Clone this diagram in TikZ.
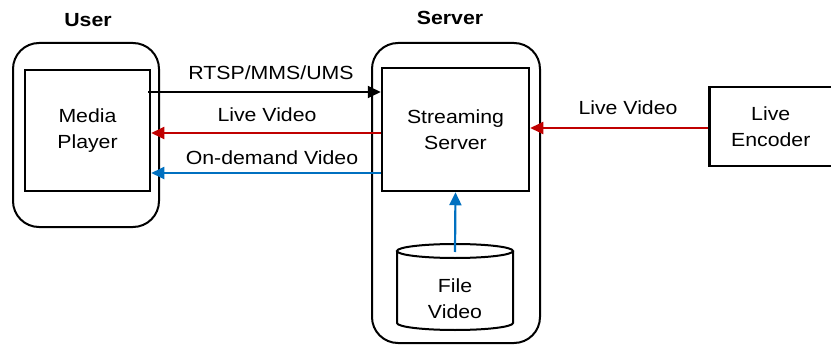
\documentclass[tikz,border=0pt]{standalone}
\usepackage{fontspec}
\setmainfont[FakeStretch=1.12]{Liberation Sans}
\usetikzlibrary{arrows.meta}
\definecolor{lred}{RGB}{192,0,0}
\definecolor{lblue}{RGB}{0,112,192}
\begin{document}
\begin{tikzpicture}[x=1pt,y=-1pt,
  txt/.style={font=\fontsize{19}{26}\selectfont, align=center, inner sep=0pt},
  head/.style={font=\fontsize{19}{22}\selectfont\bfseries, inner sep=0pt},
  group/.style={draw, line width=2pt, rounded corners=26pt},
  box/.style={draw, line width=2.5pt, inner sep=0pt},
  conn/.style={line width=1.8pt, -{Triangle[length=13pt,width=12pt]}}]
\useasboundingbox (0,0) rectangle (831,345);
% groups
\draw[group] (13,43) rectangle (159,227);
\draw[group] (372,43) rectangle (540,343);
\node[head] (userlbl) at (88,20) {User};
\node[head] (serverlbl) at (450,18) {Server};
% boxes
\node[box, minimum width=125pt, minimum height=121pt] (mp) at (87.5,130.5) {};
\node[txt] at (mp.center) {Media\\Player};
\node[box, minimum width=147pt, minimum height=123pt] (ss) at (455.5,129.5) {};
\node[txt] at (ss.center) {Streaming\\Server};
\node[box, minimum width=123pt, minimum height=79pt, anchor=west] (le) at (708,126.5) {};
\node[txt] at (le.center) {Live\\Encoder};
% cylinder
\draw[line width=2pt, fill=white] (397,251) -- (397,323) arc[start angle=180,end angle=0,x radius=58,y radius=7] -- (513,251);
\draw[line width=2pt] (455,251) ellipse[x radius=58, y radius=7];
\coordinate (cyltop) at (455,252);
\node[txt] (fv) at (455,299) {File\\Video};
% connectors
\coordinate (rtspstart) at (148,92);
\draw[conn, black] (rtspstart) -- (ss.west |- rtspstart);
\draw[conn, lred] (ss.west |- 0,133) -- (mp.east |- 0,133);
\draw[conn, lblue] (ss.west |- 0,173) -- (mp.east |- 0,173);
\draw[conn, lred] (le.west |- 0,128) -- (ss.east |- 0,128);
\draw[conn, lblue, line width=2.2pt] (cyltop) -- (ss.south);
% labels
\node[txt] (l1) at (271,73) {RTSP/MMS/UMS};
\node[txt] (l2) at (267,115) {Live Video};
\node[txt] (l3) at (272,158) {On-demand Video};
\node[txt] (l4) at (628,108) {Live Video};
\end{tikzpicture}
\end{document}
